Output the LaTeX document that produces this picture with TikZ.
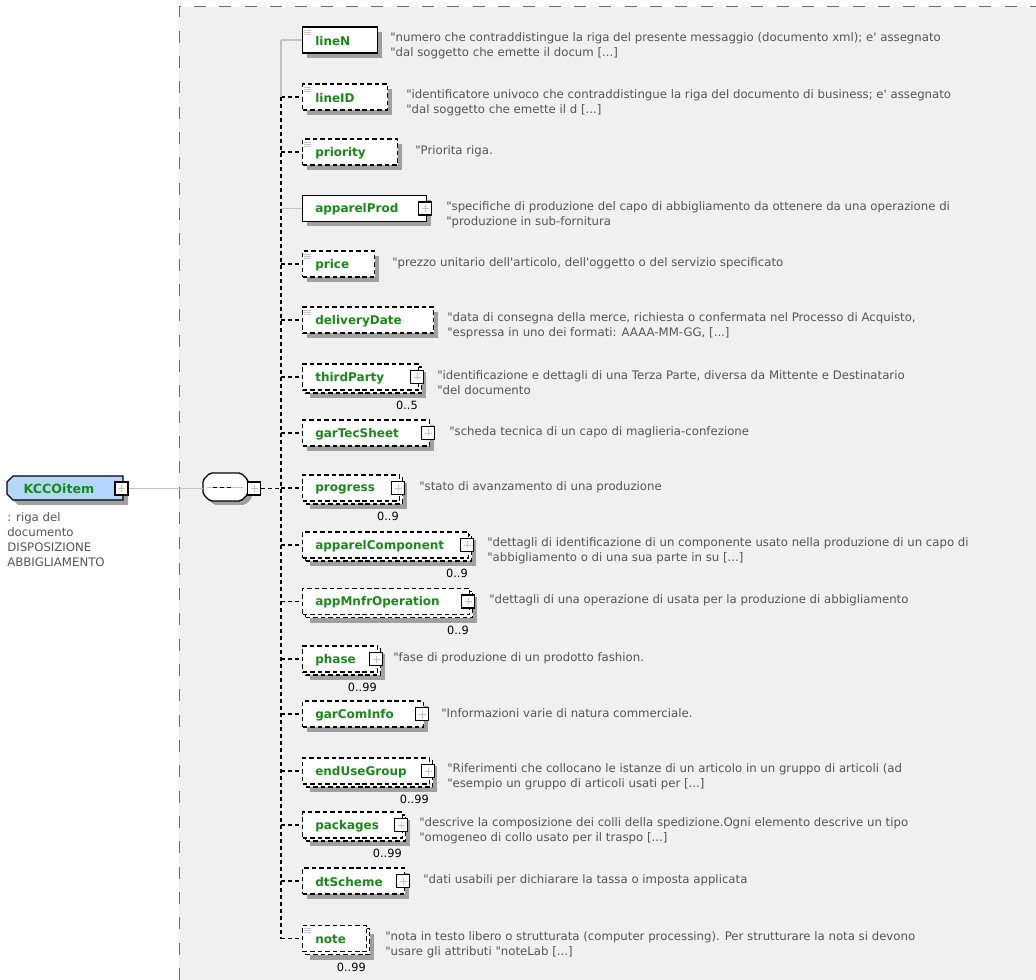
\documentclass[tikz,border=0pt]{standalone}
\usepackage{fontspec}
\setmainfont{DejaVu Sans}[Ligatures=TeXOff]
\usetikzlibrary{calc}
\definecolor{panel}{RGB}{240,240,240}
\definecolor{pdash}{RGB}{110,110,110}
\definecolor{shadowc}{RGB}{160,160,160}
\definecolor{ngreen}{RGB}{20,140,20}
\definecolor{dgray}{RGB}{85,85,85}
\definecolor{lgray}{RGB}{195,195,195}
\definecolor{kblue}{RGB}{180,214,250}
\tikzset{
 mandbox/.style={draw=black, line width=1.1pt, fill=white},
 optbox/.style={draw=black, line width=1.1pt, fill=white, dash pattern=on 3.4pt off 2.2pt},
 boxnode/.style={rectangle, minimum height=19.5pt, inner sep=0pt, anchor=west},
 nametext/.style={font=\fontsize{9}{11}\selectfont\bfseries, text=ngreen, inner sep=0pt, anchor=west},
 desc/.style={font=\fontsize{8.8}{11.25}\selectfont, text=dgray, align=left, inner sep=0pt, anchor=west},
 mult/.style={font=\fontsize{8.5}{10}\selectfont, text=black, inner sep=0pt, anchor=east},
 expbox/.style={draw=black, fill=white, line width=0.8pt, minimum size=9.75pt, inner sep=0pt},
 mandline/.style={draw=lgray, line width=0.8pt},
 optline/.style={draw=black, line width=0.8pt, dash pattern=on 3pt off 2.25pt},
 plus/.style={draw=lgray, line width=0.6pt},
}
% #1 name #2 cy #3 right x #4 man/opt #5 mult #6 kids(1/0) #7 desc x #8 line1 #9 line2
\newcommand\el[9]{%
 \coordinate (s-#1) at (281,#2);
 \if\relax\detokenize{#5}\relax
   \fill[shadowc] (307,#2-8) rectangle (#3+5,#2+18);
 \else
   \fill[shadowc] (310,#2-5) rectangle (#3+8,#2+21);
   \node[boxnode, #4box, minimum width={(#3-302)*0.75pt}] (#1-bk) at (305,#2+3) {};
   \node[mult] (#1-m) at (#3,#2+28.5) {#5};
 \fi
 \node[boxnode, #4box, minimum width={(#3-302)*0.75pt}] (#1) at (302,#2) {};
 \node[nametext] (#1-t) at (315,#2+1) {#1};
 \ifnum#6=1
   \node[expbox] (#1-x) at (#3-1,#2) {};
   \draw[plus] ($(#1-x.center)+(-3.5,0)$) -- ($(#1-x.center)+(3.5,0)$)
               ($(#1-x.center)+(0,-3.5)$) -- ($(#1-x.center)+(0,3.5)$);
 \else
   \draw[plus] (303.5,#2-10) -- ++(7,0) (303.5,#2-8) -- ++(7,0) (303.5,#2-6) -- ++(7,0);
 \fi
 \if\relax\detokenize{#9}\relax
   \node[desc] (#1-d) at (#7,#2-1) {#8};
 \else
   \node[desc] (#1-d) at (#7,#2+6) {#8\\#9};
 \fi
 \draw[#4line] (s-#1) -- (#1.west);
}
\begin{document}
\begin{tikzpicture}[x=0.75pt,y=-0.75pt]
\useasboundingbox (0,0) rectangle (1036,980);
% panel
\fill[panel] (179,7) rectangle (1036,980);
\draw[pdash, line width=0.75pt, dash pattern=on 9pt off 10pt] (179,980) -- (179,7) -- (1036,7);
% root element
\fill[shadowc] (18,481) -- (128,481) -- (128,505) -- (18,505) -- (12,499) -- (12,487) -- cycle;
\draw[fill=kblue, line width=1pt] (13,476) -- (123,476) -- (123,500) -- (13,500) -- (7,494) -- (7,482) -- cycle;
\node[nametext, anchor=center, font=\fontsize{9.5}{11}\selectfont\bfseries] (kcco) at (59,489) {KCCOitem};
\node[expbox] (kcco-x) at (121.5,488.5) {};
\draw[plus] ($(kcco-x.center)+(-3.5,0)$) -- ($(kcco-x.center)+(3.5,0)$)
            ($(kcco-x.center)+(0,-3.5)$) -- ($(kcco-x.center)+(0,3.5)$);
\node[desc, anchor=north west] (kdesc) at (7,512) {: riga del\\documento\\DISPOSIZIONE\\ABBIGLIAMENTO};
% sequence compositor
\fill[shadowc, rounded corners=1.5pt] (214,477) -- (245,477) -- (252,484) -- (252,498) -- (245,505) -- (214,505) -- (207,498) -- (207,484) -- cycle;
\draw[fill=white, line width=1pt, rounded corners=1.5pt] (210,473) -- (241,473) -- (248,480) -- (248,494) -- (241,501) -- (210,501) -- (203,494) -- (203,480) -- cycle;
\node[inner sep=0pt, minimum width=33.75pt, minimum height=21pt] (seq) at (225.5,487) {};
\draw[lgray, line width=0.8pt] (207,487.5) -- (243,487.5);
\draw[black, line width=1.3pt] (213,487.5) -- (217,487.5) (220,487.5) -- (224,487.5) (227,487.5) -- (231,487.5);
\node[expbox] (seq-x) at (254,488.5) {};
\draw[plus] ($(seq-x.center)+(-3.5,0)$) -- ($(seq-x.center)+(3.5,0)$)
            ($(seq-x.center)+(0,-3.5)$) -- ($(seq-x.center)+(0,3.5)$);
\draw[mandline] (kcco-x.east) -- (seq.west |- kcco-x.east);
\coordinate (s-seq) at (281,488.5);
\draw[optline] (seq-x.east) -- (s-seq);
% children
\el{lineN}{40}{377}{mand}{}{0}{390}{"numero che contraddistingue la riga del presente messaggio (documento xml); e' assegnato}{"dal soggetto che emette il docum [...]}
\el{lineID}{97}{387}{opt}{}{0}{406}{"identificatore univoco che contraddistingue la riga del documento di business; e' assegnato}{"dal soggetto che emette il d [...]}
\el{priority}{152}{397}{opt}{}{0}{415}{"Priorita riga.}{}
\el{apparelProd}{208.5}{426}{mand}{}{1}{446}{"specifiche di produzione del capo di abbigliamento da ottenere da una operazione di}{"produzione in sub-fornitura}
\el{price}{264}{374}{opt}{}{0}{392}{"prezzo unitario dell'articolo, dell'oggetto o del servizio specificato}{}
\el{deliveryDate}{320}{433}{opt}{}{0}{447}{"data di consegna della merce, richiesta o confermata nel Processo di Acquisto,}{"espressa in uno dei formati: AAAA-MM-GG, [...]}
\el{thirdParty}{377}{418}{opt}{0..5}{1}{437}{"identificazione e dettagli di una Terza Parte, diversa da Mittente e Destinatario}{"del documento}
\el{garTecSheet}{433}{429}{opt}{}{1}{449}{"scheda tecnica di un capo di maglieria-confezione}{}
\el{progress}{488}{399}{opt}{0..9}{1}{419}{"stato di avanzamento di una produzione}{}
\el{apparelComponent}{545}{468}{opt}{0..9}{1}{487}{"dettagli di identificazione di un componente usato nella produzione di un capo di}{"abbigliamento o di una sua parte in su [...]}
\el{appMnfrOperation}{601.5}{469}{opt}{0..9}{1}{489}{"dettagli di una operazione di usata per la produzione di abbigliamento}{}
\el{phase}{659}{377}{opt}{0..99}{1}{393}{"fase di produzione di un prodotto fashion.}{}
\el{garComInfo}{714}{423}{opt}{}{1}{441}{"Informazioni varie di natura commerciale.}{}
\el{endUseGroup}{771}{429}{opt}{0..99}{1}{447}{"Riferimenti che collocano le istanze di un articolo in un gruppo di articoli (ad}{"esempio un gruppo di articoli usati per [...]}
\el{packages}{825}{402}{opt}{0..99}{1}{419}{"descrive la composizione dei colli della spedizione.Ogni elemento descrive un tipo}{"omogeneo di collo usato per il traspo [...]}
\el{dtScheme}{881}{404}{opt}{}{1}{423}{"dati usabili per dichiarare la tassa o imposta applicata}{}
\el{note}{938.5}{366}{opt}{0..99}{0}{385}{"nota in testo libero o strutturata (computer processing). Per strutturare la nota si devono}{"usare gli attributi "noteLab [...]}
% spine
\draw[mandline] (s-lineN) -- (s-lineID);
\draw[optline] (s-lineID) -- (s-note);
\end{tikzpicture}
\end{document}
